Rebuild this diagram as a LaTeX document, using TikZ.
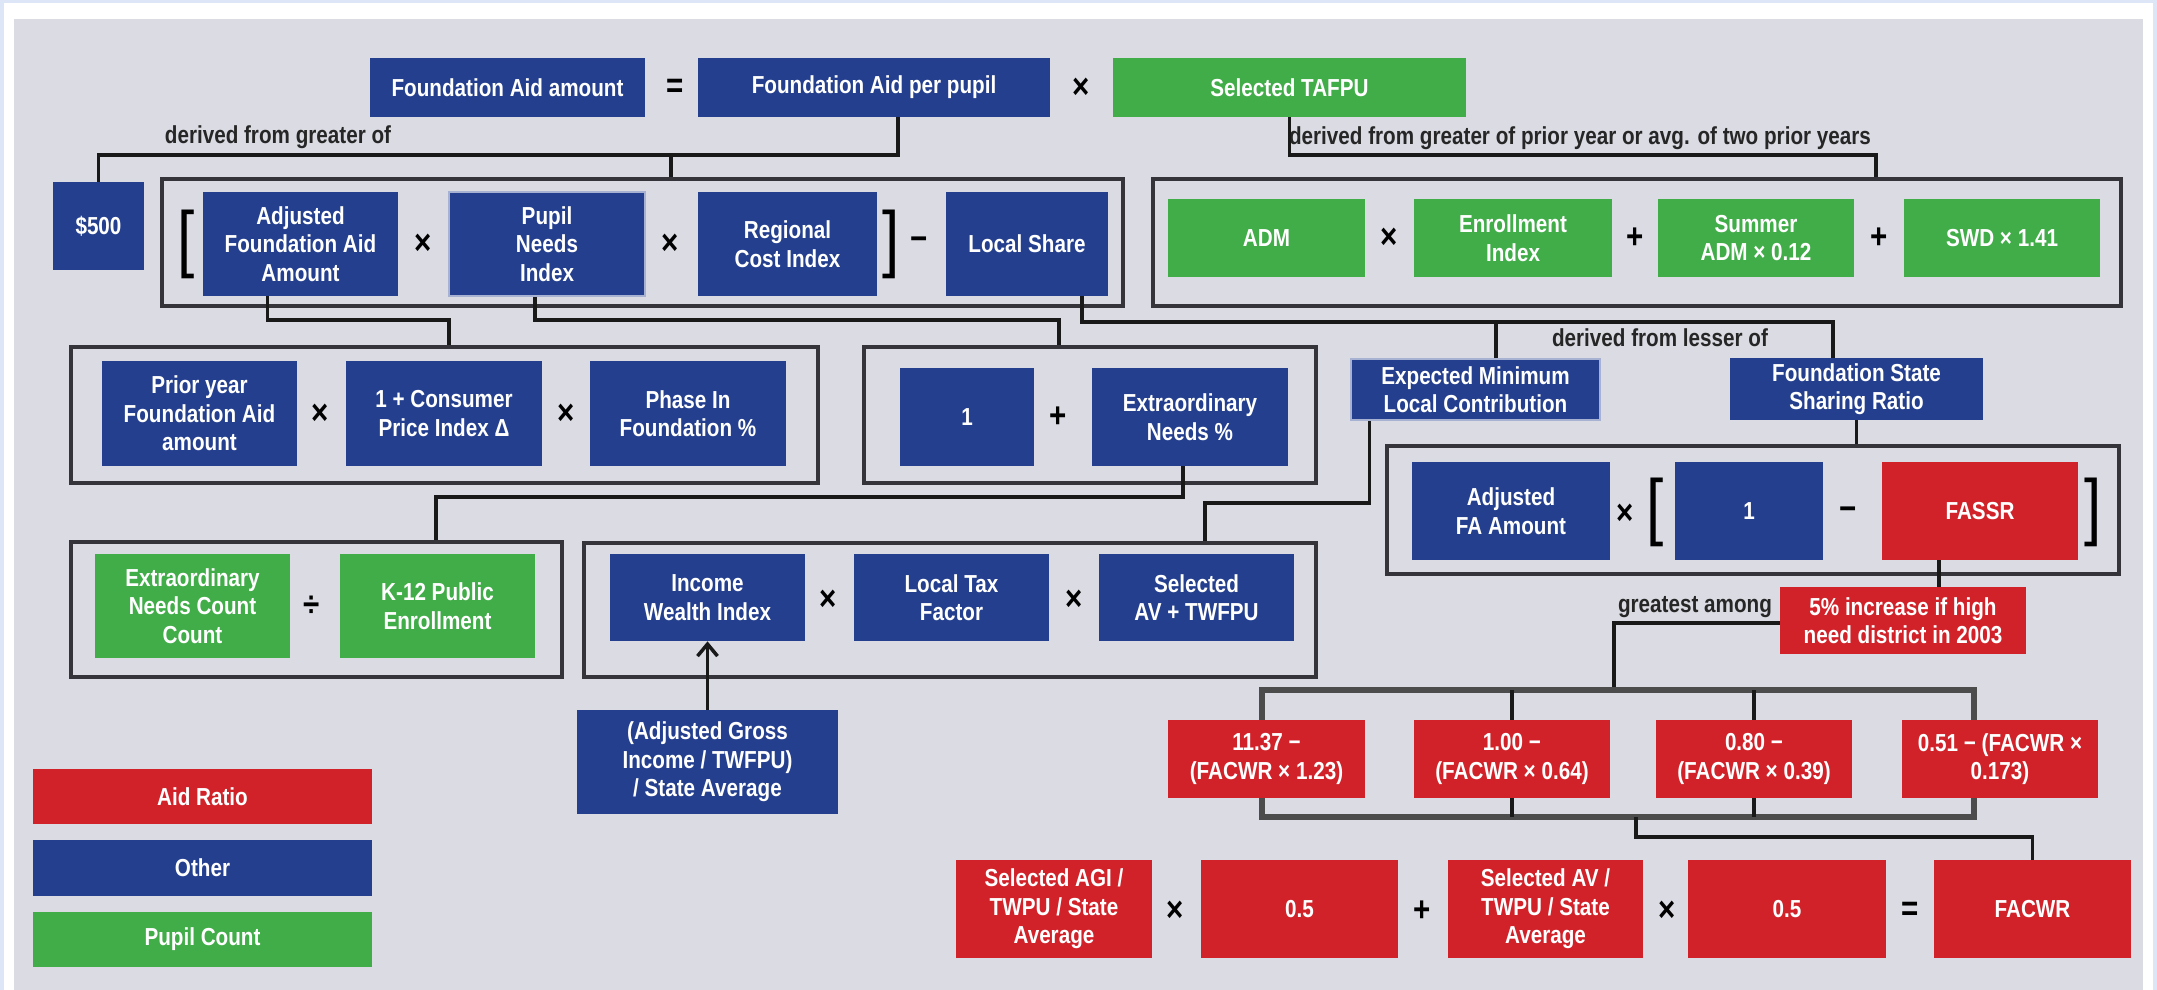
\documentclass[tikz,border=0pt]{standalone}
\usepackage{fontspec}
\setmainfont{Liberation Sans}[FakeStretch=0.84]
\usetikzlibrary{positioning}
\usetikzlibrary{arrows.meta}

\definecolor{otherblue}{RGB}{36,63,142}
\definecolor{aidred}{RGB}{209,34,42}
\definecolor{pupilgreen}{RGB}{65,173,73}
\definecolor{panel}{RGB}{218,219,227}
\definecolor{outerblue}{RGB}{220,230,246}
\definecolor{framegray}{RGB}{52,52,58}

\tikzset{x=0.2mm, y=-0.2mm, % one unit is one pixel of the chart
every node/.style={inner sep=0pt},
block/.style={ % coloured boxes with white text
rectangle, text=white, align=center,
font=\bfseries\fontsize{14}{16.2}\selectfont},
other/.style={block, fill=otherblue},
aid/.style={block, fill=aidred},
pupil/.style={block, fill=pupilgreen},
rim/.style={draw=otherblue!40!white, line width=0.4mm},
dims/.style 2 args={minimum width=#1*0.2mm, minimum height=#2*0.2mm},
group/.style={draw=framegray, line width=0.8mm}, % frames round a formula
op/.style={font=\bfseries\fontsize{20}{20}\selectfont},
bracket/.style={font=\fontsize{42}{42}\selectfont},
note/.style={font=\bfseries\fontsize{14}{16}\selectfont, text=black!85},
wire/.style={draw=black!90, line width=0.7mm},
bar/.style={draw=black!70, line width=1.1mm}}

\begin{document}
\begin{tikzpicture}
	\fill[outerblue] (0,0) rectangle (2157,990);
	\fill[white] (4,3) rectangle (2153,990);
	\fill[panel] (14,19) rectangle (2143,990);
	\useasboundingbox (0,0) rectangle (2157,990);

	% top line
	\node[other, dims={275}{59}] (famt) at (507.5,87.5) {Foundation Aid amount};
	\node[op] (eq1) at (675,88) {=};
	\node[other, dims={352}{59}] (fapp) at (874,87.5) {Foundation Aid per pupil};
	\node[op] (x1) at (1081,88) {×};
	\node[pupil, dims={353}{59}] (tafpu) at (1289.5,87.5) {Selected TAFPU};

	% second line
	\node[other, dims={91}{88}] (d500) at (98.5,226) {\$500};
	\node[group, dims={961}{127}] (g1) at (642.5,242.5) {};
	\node[bracket] (lb1) at (186,244) {[};
	\node[other, dims={195}{104}] (afaa) at (300.5,244) {Adjusted\\Foundation Aid\\Amount};
	\node[op] (x2) at (423,244) {×};
	\node[other, rim, dims={196}{104}] (pni) at (547,244) {Pupil\\Needs\\Index};
	\node[op] (x3) at (670,244) {×};
	\node[other, dims={179}{104}] (rci) at (787.5,244) {Regional\\Cost Index};
	\node[bracket] (rb1) at (891,244) {]};
	\node[op] (m1) at (919,244) {−};
	\node[other, dims={162}{104}] (lshare) at (1027,244) {Local Share};

	\node[group, dims={968}{127}] (g2) at (1637,242.5) {};
	\node[pupil, dims={197}{78}] (adm) at (1266.5,238) {ADM};
	\node[op] (x4) at (1389,238) {×};
	\node[pupil, dims={198}{78}] (enr) at (1513,238) {Enrollment\\Index};
	\node[op] (p1) at (1635,238) {+};
	\node[pupil, dims={196}{78}] (summ) at (1756,238) {Summer\\ADM × 0.12};
	\node[op] (p2) at (1879,238) {+};
	\node[pupil, dims={196}{78}] (swd) at (2002,238) {SWD × 1.41};

	% third line
	\node[group, dims={747}{136}] (g3) at (444.5,415) {};
	\node[other, dims={195}{105}] (pyfaa) at (199.5,413.5) {Prior year\\Foundation Aid\\amount};
	\node[op] (x5) at (320,414) {×};
	\node[other, dims={196}{105}] (cpi) at (444,413.5) {1 + Consumer\\Price Index Δ};
	\node[op] (x6) at (566,414) {×};
	\node[other, dims={196}{105}] (phase) at (688,413.5) {Phase In\\Foundation \%};
	\node[group, dims={452}{136}] (g4) at (1090,415) {};
	\node[other, dims={134}{98}] (one1) at (967,417) {1};
	\node[op] (p3) at (1058,417) {+};
	\node[other, dims={196}{98}] (enp) at (1190,417) {Extraordinary\\Needs \%};
	\node[other, rim, dims={249}{61}] (emlc) at (1475.5,389.5) {Expected Minimum\\Local Contribution};
	\node[other, dims={253}{62}] (fssr) at (1856.5,389) {Foundation State\\Sharing Ratio};

	\node[group, dims={732}{128}] (g5) at (1753,510) {};
	\node[other, dims={198}{98}] (afa) at (1511,511) {Adjusted\\FA Amount};
	\node[op] (x7) at (1625,514) {×};
	\node[bracket] (lb2) at (1655,512) {[};
	\node[other, dims={148}{98}] (one2) at (1749,511) {1};
	\node[op] (m2) at (1848,514) {−};
	\node[aid, dims={196}{98}] (fassr) at (1980,511) {FASSR};
	\node[bracket] (rb2) at (2093,512) {]};

	% fourth line
	\node[group, dims={491}{135}] (g6) at (316.5,609.5) {};
	\node[pupil, dims={195}{104}] (encc) at (192.5,606) {Extraordinary\\Needs Count\\Count};
	\node[op] (d1) at (312,606) {÷};
	\node[pupil, dims={195}{104}] (k12) at (437.5,606) {K-12 Public\\Enrollment};
	\node[group, dims={732}{134}] (g7) at (950,610) {};
	\node[other, dims={195}{87}] (iwi) at (707.5,597.5) {Income\\Wealth Index};
	\node[op] (x8) at (828,600) {×};
	\node[other, dims={195}{87}] (ltf) at (951.5,597.5) {Local Tax\\Factor};
	\node[op] (x9) at (1074,600) {×};
	\node[other, dims={195}{87}] (sav) at (1196.5,597.5) {Selected\\AV + TWFPU};
	\node[other, dims={261}{104}] (agi) at (707.5,762) {(Adjusted Gross\\Income / TWFPU)\\/ State Average};
	\node[aid, dims={246}{67}] (five) at (1903,620.5) {5\% increase if high\\need district in 2003};

	% aid ratio choices
	\node[aid, dims={197}{78}] (r1) at (1266.5,759) {11.37 −\\(FACWR × 1.23)};
	\node[aid, dims={196}{78}] (r2) at (1512,759) {1.00 −\\(FACWR × 0.64)};
	\node[aid, dims={196}{78}] (r3) at (1754,759) {0.80 −\\(FACWR × 0.39)};
	\node[aid, dims={196}{78}] (r4) at (2000,759) {0.51 − (FACWR ×\\0.173)};

	\node[aid, dims={196}{98}] (sagi) at (1054,909) {Selected AGI /\\TWPU / State\\Average};
	\node[op] (x10) at (1175,911) {×};
	\node[aid, dims={197}{98}] (half1) at (1299.5,909) {0.5};
	\node[op] (p4) at (1422,911) {+};
	\node[aid, dims={195}{98}] (sav2) at (1545.5,909) {Selected AV /\\TWPU / State\\Average};
	\node[op] (x11) at (1667,911) {×};
	\node[aid, dims={198}{98}] (half2) at (1787,909) {0.5};
	\node[op] (eq2) at (1910,911) {=};
	\node[aid, dims={197}{98}] (facwr) at (2032.5,909) {FACWR};

	% legend
	\node[aid, dims={339}{55}] (kaid) at (202.5,796.5) {Aid Ratio};
	\node[other, dims={339}{56}] (kother) at (202.5,868) {Other};
	\node[pupil, dims={339}{55}] (kpupil) at (202.5,939.5) {Pupil Count};

	% labels on the connectors
	\node[note] (lgreater) at (278,137) {derived from greater of};
	\node[note] (lprior) at (1580,138) {derived from greater of prior year or avg. of two prior years};
	\node[note] (llesser) at (1660,338) {derived from lesser of};
	\node[note] (lgreatest) at (1695,607) {greatest among};

	% connectors
	\coordinate (busA) at (898,155);
	\coordinate (busAm) at (671,155);
	\draw[wire] (fapp.south -| busA) -- (busA) -| (d500.north);
	\draw[wire] (busAm) -- (busAm |- g1.north);
	\coordinate (busB) at (1876,155);
	\draw[wire] (tafpu.south) |- (busB) -- (busB |- g2.north);
	\coordinate (busC) at (449,320);
	\draw[wire] ([xshift=-6.6mm]afaa.south) |- (busC) -- (busC |- g3.north);
	\coordinate (busD) at (1059,320);
	\draw[wire] ([xshift=-2.4mm]pni.south) |- (busD) -- (busD |- g4.north);
	\coordinate (busE) at (1833,322);
	\coordinate (busEm) at (1496,322);
	\draw[wire] ([xshift=11mm]lshare.south) |- (busE) -- (busE |- fssr.north);
	\draw[wire] (busEm) -- (busEm |- emlc.north);
	\draw[wire] (fssr.south) -- (fssr.south |- g5.north);
	\coordinate (busF) at (436,497);
	\draw[wire] ([xshift=-1.4mm]enp.south) |- (busF) -- (busF |- g6.north);
	\coordinate (busG) at (1205,503);
	\draw[wire] ([xshift=-21.2mm]emlc.south) |- (busG) -- (busG |- g7.north);
	\draw[wire, -{Straight Barb[length=2.4mm, width=4mm]}] (agi.north) -- (agi.north |- iwi.south);
	\coordinate (fdrop) at ([xshift=-8.2mm]fassr.south);
	\draw[wire] (fdrop) -- (fdrop |- five.north);

	\coordinate (topL) at (1262,690);
	\coordinate (topR) at (1974,690);
	\coordinate (busH) at (1614,623);
	\draw[wire] (five.west |- busH) -| (busH |- topL);
	\draw[bar] (topL |- r1.north) -- (topL) -- (topR) -- (topR |- r4.north);
	\draw[wire] (r2.north) -- (r2.north |- topL);
	\draw[wire] (r3.north) -- (r3.north |- topL);
	\coordinate (botL) at (1262,817);
	\coordinate (botR) at (1974,817);
	\draw[bar] (botL |- r1.south) -- (botL) -- (botR) -- (botR |- r4.south);
	\draw[wire] (r2.south) -- (r2.south |- botL);
	\draw[wire] (r3.south) -- (r3.south |- botL);
	\coordinate (busI) at (1636,837);
	\draw[wire] (busI |- botL) -- (busI) -| (facwr.north);
\end{tikzpicture}
\end{document}
